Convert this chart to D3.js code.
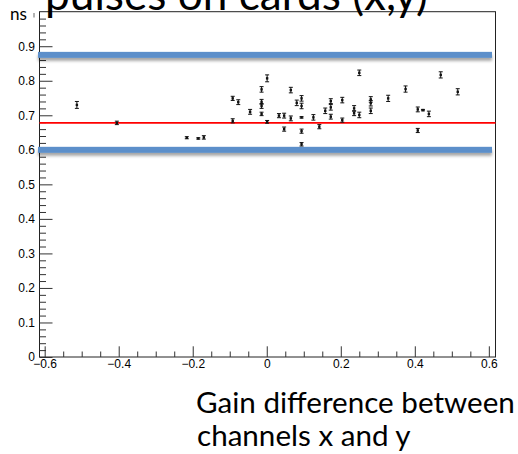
<!DOCTYPE html>
<html>
<head>
<meta charset="utf-8">
<script src="https://cdn.jsdelivr.net/npm/d3@7"></script>
<style>
  html, body { margin: 0; padding: 0; background: #fff; }
  svg { display: block; }
</style>
</head>
<body>
<svg id="chart" width="518" height="454"></svg>
<script>
// Measured gain difference (x) and time offset in ns (y) for each channel pair
const gainDiff = [
  -0.513, -0.405, -0.216, -0.185, -0.170,
  -0.092, -0.077, -0.092, -0.045,
  -0.014, -0.014, -0.014, -0.014,
  0.001, 0.001,
  0.033, 0.047, 0.047,
  0.065, 0.065, 0.081,
  0.094, 0.094, 0.094, 0.094, 0.094,
  0.126, 0.142, 0.158,
  0.173, 0.173, 0.173,
  0.204, 0.204,
  0.236, 0.236, 0.250, 0.250,
  0.281, 0.281, 0.281,
  0.328, 0.375, 0.408, 0.422, 0.438, 0.408, 0.470, 0.516
];
const timeOffset = [
  0.730, 0.678, 0.635, 0.633, 0.636,
  0.749, 0.738, 0.684, 0.710,
  0.775, 0.739, 0.727, 0.704,
  0.807, 0.681,
  0.699, 0.699, 0.660,
  0.773, 0.691, 0.736,
  0.749, 0.727, 0.694, 0.654, 0.616,
  0.694, 0.667, 0.713,
  0.741, 0.723, 0.696,
  0.744, 0.686,
  0.720, 0.706, 0.701, 0.823,
  0.746, 0.735, 0.713,
  0.749, 0.776, 0.717, 0.715, 0.704, 0.656, 0.817, 0.768
];
const timeError = [
  0.010, 0.005, 0.003, 0.002, 0.005,
  0.006, 0.007, 0.006, 0.007,
  0.008, 0.007, 0.007, 0.005,
  0.010, 0.004,
  0.006, 0.007, 0.006,
  0.008, 0.007, 0.008,
  0.008, 0.008, 0.002, 0.006, 0.005,
  0.008, 0.006, 0.008,
  0.007, 0.008, 0.007,
  0.008, 0.006,
  0.008, 0.007, 0.008, 0.008,
  0.008, 0.008, 0.008,
  0.009, 0.009, 0.007, 0.002, 0.008, 0.006, 0.009, 0.009
];

// Mean offset and the band limits
const meanOffset = 0.678;
const bandLevels = [0.875, 0.600];

// Axis ticks and labels
const xMajorTicks = [-0.6, -0.4, -0.2, 0, 0.2, 0.4, 0.6];
const yMajorTicks = [0, 0.1, 0.2, 0.3, 0.4, 0.5, 0.6, 0.7, 0.8, 0.9];
const titleText = "pulses on cards (x,y)";
const xTitleLines = ["Gain difference between", "channels x and y"];
const yUnit = "ns";

const svg = d3.select("#chart");
const frame = { left: 39.5, right: 495.5, top: 11.7, bottom: 357 };

const x = d3.scaleLinear().domain([-0.614, 0.618]).range([frame.left, frame.right]);
const y = d3.scaleLinear().domain([0, 1]).range([frame.bottom, frame.top]);

const defs = svg.append("defs");
const shadow = defs.append("filter").attr("id", "bandShadow")
  .attr("x", "-5%").attr("y", "-100%").attr("width", "110%").attr("height", "400%");
shadow.append("feDropShadow")
  .attr("dx", 0).attr("dy", 3).attr("stdDeviation", 1.8)
  .attr("flood-color", "#000").attr("flood-opacity", 0.35);

const axisFont = "'Liberation Sans', Arial, sans-serif";
const textFont = "Lato, 'Open Sans', sans-serif";

// Frame
svg.append("rect")
  .attr("x", frame.left).attr("y", frame.top)
  .attr("width", frame.right - frame.left).attr("height", frame.bottom - frame.top)
  .attr("fill", "none").attr("stroke", "#222").attr("stroke-width", 1);

// Minor ticks
const yMinor = d3.range(0, 50).map(i => i * 0.02).filter(v => Math.round(v * 50) % 5 !== 0);
const xMinor = d3.range(-12, 13).map(i => i * 0.05).filter(v => Math.round(v * 20) % 4 !== 0);

svg.append("g").attr("transform", `translate(${frame.left},0)`)
  .call(d3.axisLeft(y).tickValues(yMinor).tickSize(-6.5).tickFormat(""))
  .call(g => g.select(".domain").remove())
  .selectAll("line").attr("stroke", "#333");

svg.append("g").attr("transform", `translate(0,${frame.bottom})`)
  .call(d3.axisBottom(x).tickValues(xMinor).tickSize(-5.5).tickFormat(""))
  .call(g => g.select(".domain").remove())
  .selectAll("line").attr("stroke", "#333");

// Major ticks and labels
const fmt = d3.format(".1~f");
const yAxis = svg.append("g").attr("transform", `translate(${frame.left},0)`)
  .call(d3.axisLeft(y).tickValues(yMajorTicks).tickSize(-13).tickPadding(4.5).tickFormat(fmt));
yAxis.select(".domain").remove();
yAxis.selectAll("line").attr("stroke", "#333");
yAxis.selectAll("text").attr("font-family", axisFont).attr("font-size", 12).attr("fill", "#000");

const xAxis = svg.append("g").attr("transform", `translate(0,${frame.bottom})`)
  .call(d3.axisBottom(x).tickValues(xMajorTicks).tickSize(-10.7).tickPadding(2).tickFormat(fmt));
xAxis.select(".domain").remove();
xAxis.selectAll("line").attr("stroke", "#333");
xAxis.selectAll("text").attr("font-family", axisFont).attr("font-size", 12).attr("fill", "#000");

// Stem of the top axis label, mostly covered by the unit label box
svg.append("line")
  .attr("x1", 34).attr("x2", 34).attr("y1", 13).attr("y2", 17.5)
  .attr("stroke", "#666").attr("stroke-width", 1);

// Band limits
svg.append("g").selectAll("rect").data(bandLevels).join("rect")
  .attr("x", 38).attr("width", 492 - 38)
  .attr("y", d => y(d) - 3).attr("height", 6)
  .attr("fill", "#5b8fca")
  .attr("filter", "url(#bandShadow)");

// Mean offset line
svg.append("line")
  .attr("x1", frame.left).attr("x2", frame.right)
  .attr("y1", y(meanOffset)).attr("y2", y(meanOffset))
  .attr("stroke", "#f00").attr("stroke-width", 1.6);

// Points with error bars
const pts = gainDiff.map((g, i) => ({ g, t: timeOffset[i], e: timeError[i] }));
const pg = svg.append("g").attr("stroke", "#111").attr("stroke-width", 1).attr("fill", "#111");
const p = pg.selectAll("g").data(pts).join("g");
p.append("line")
  .attr("x1", d => x(d.g)).attr("x2", d => x(d.g))
  .attr("y1", d => y(d.t - d.e)).attr("y2", d => y(d.t + d.e));
p.append("line")
  .attr("x1", d => x(d.g) - 2).attr("x2", d => x(d.g) + 2)
  .attr("y1", d => y(d.t - d.e)).attr("y2", d => y(d.t - d.e));
p.append("line")
  .attr("x1", d => x(d.g) - 2).attr("x2", d => x(d.g) + 2)
  .attr("y1", d => y(d.t + d.e)).attr("y2", d => y(d.t + d.e));
p.append("rect")
  .attr("x", d => x(d.g) - 1.2).attr("y", d => y(d.t) - 1.2)
  .attr("width", 2.4).attr("height", 2.4).attr("stroke", "none");

// Fit a text element to a given width by adjusting its font size
function fitWidth(sel, width, base) {
  sel.attr("font-size", base);
  const w = sel.node().getComputedTextLength();
  const size = base * width / w;
  sel.attr("font-size", size);
  return size;
}

// Title (partly above the top edge)
const title = svg.append("text")
  .attr("x", 45).attr("y", 10)
  .attr("font-family", textFont).attr("fill", "#000")
  .text(titleText);
fitWidth(title, 383, 40);

// Unit label
const unit = svg.append("text")
  .attr("x", 10).attr("y", 20)
  .attr("font-family", textFont).attr("fill", "#000")
  .text(yUnit);
fitWidth(unit, 17, 16);

// X-axis caption
const cap1 = svg.append("text")
  .attr("x", 196).attr("y", 413)
  .attr("font-family", textFont).attr("fill", "#000")
  .text(xTitleLines[0]);
const capSize = fitWidth(cap1, 319, 26);
svg.append("text")
  .attr("x", 197).attr("y", 446)
  .attr("font-family", textFont).attr("font-size", capSize).attr("fill", "#000")
  .text(xTitleLines[1]);
</script>
</body>
</html>
